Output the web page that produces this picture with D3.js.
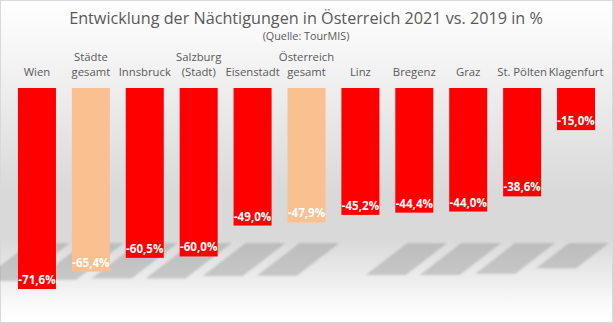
<!DOCTYPE html>
<html>
<head>
<meta charset="utf-8">
<script src="https://cdn.jsdelivr.net/npm/d3@7/dist/d3.min.js"></script>
<style>
  html, body { margin: 0; padding: 0; background: #ffffff; }
  svg { display: block; }
</style>
</head>
<body>
<script>
// ---- data ----
const title = "Entwicklung der Nächtigungen in Österreich 2021 vs. 2019 in %";
const subtitle = "(Quelle: TourMIS)";
const categories = ["Wien", "Städte gesamt", "Innsbruck", "Salzburg (Stadt)", "Eisenstadt", "Österreich gesamt", "Linz", "Bregenz", "Graz", "St. Pölten", "Klagenfurt"];
const categoryLines = [["Wien"], ["Städte", "gesamt"], ["Innsbruck"], ["Salzburg", "(Stadt)"], ["Eisenstadt"], ["Österreich", "gesamt"], ["Linz"], ["Bregenz"], ["Graz"], ["St. Pölten"], ["Klagenfurt"]];
const values = [-71.6, -65.4, -60.5, -60.0, -49.0, -47.9, -45.2, -44.4, -44.0, -38.6, -15.0];
const groupType = ["city", "total", "city", "city", "city", "total", "city", "city", "city", "city", "city"];
const noShadow = ["Linz"];

// ---- layout ----
const W = 613, H = 323;
const svg = d3.select("body").append("svg").attr("width", W).attr("height", H);
const defs = svg.append("defs");

const bg = defs.append("linearGradient").attr("id", "bg").attr("x1", 0).attr("y1", 0).attr("x2", 0).attr("y2", 1);
[[0, "#ffffff"], [0.12, "#f8f8f8"], [0.35, "#e9e9e9"], [0.6, "#d9d9d9"], [0.74, "#d9d9d9"], [0.86, "#ececec"], [0.95, "#fbfbfb"], [1, "#ffffff"]]
  .forEach(([o, c]) => bg.append("stop").attr("offset", o).attr("stop-color", c));

const blur = defs.append("filter").attr("id", "blur").attr("x", "-20%").attr("y", "-20%").attr("width", "140%").attr("height", "140%");
blur.append("feGaussianBlur").attr("stdDeviation", 1.3);

svg.append("rect").attr("x", 0.5).attr("y", 0.5).attr("width", W - 1).attr("height", H - 1)
  .attr("fill", "url(#bg)").attr("stroke", "#d9d9d9").attr("stroke-width", 1);

const x = d3.scaleBand().domain(categories).range([10, 603]).paddingInner(0.295).paddingOuter(0.1475);
const y = d3.scaleLinear().domain([-80, 0]).range([312.6, 88]);
const color = d3.scaleOrdinal().domain(["city", "total"]).range(["#ff0000", "#fac090"]);

const font = "'Open Sans', 'Noto Sans', sans-serif";

// title
svg.append("text").attr("x", 306).attr("y", 24).attr("text-anchor", "middle")
  .attr("font-family", font).attr("font-size", 16.2).attr("fill", "#595959").text(title);
svg.append("text").attr("x", 306).attr("y", 40).attr("text-anchor", "middle")
  .attr("font-family", font).attr("font-size", 10.8).attr("fill", "#595959").text(subtitle);

// category labels
categories.forEach((c, i) => {
  const lines = categoryLines[i];
  const t = svg.append("text").attr("text-anchor", "middle")
    .attr("font-family", font).attr("font-size", 11.3).attr("fill", "#595959");
  lines.forEach((ln, j) => {
    t.append("tspan").attr("x", x(c) + x.bandwidth() / 2)
      .attr("y", 76 - (lines.length - 1 - j) * 15).text(ln);
  });
});

// shadows
const shadowTop = 243;
const sg = svg.append("g").attr("filter", "url(#blur)");
categories.forEach((c, i) => {
  if (noShadow.includes(c)) return;
  const x0 = x(c);
  const h = y(values[i]) - y(0);
  const depth = 22 + 0.08 * h;
  const sk = 1.3 * depth;
  const pts = [
    [x0 + 12, shadowTop], [x0 + 52, shadowTop],
    [x0 + 52 - sk, shadowTop + depth], [x0 + 12 - sk, shadowTop + depth]
  ];
  sg.append("polygon").attr("points", pts.map(p => p.join(",")).join(" "))
    .attr("fill", "#8c8c8c").attr("fill-opacity", 0.38);
});

// bars
svg.append("g").selectAll("rect").data(values).join("rect")
  .attr("x", (d, i) => x(categories[i]))
  .attr("y", y(0))
  .attr("width", x.bandwidth())
  .attr("height", d => y(d) - y(0))
  .attr("fill", (d, i) => color(groupType[i]));

// value labels
const fmt = v => d3.format(".1f")(v).replace("−", "-").replace(".", ",") + "%";
svg.append("g").selectAll("text").data(values).join("text")
  .attr("x", (d, i) => x(categories[i]) + x.bandwidth() / 2)
  .attr("y", d => y(d) - 5)
  .attr("text-anchor", "middle")
  .attr("font-family", font).attr("font-size", 11.6).attr("font-weight", "bold")
  .attr("fill", "#ffffff")
  .text(d => fmt(d));
</script>
</body>
</html>
